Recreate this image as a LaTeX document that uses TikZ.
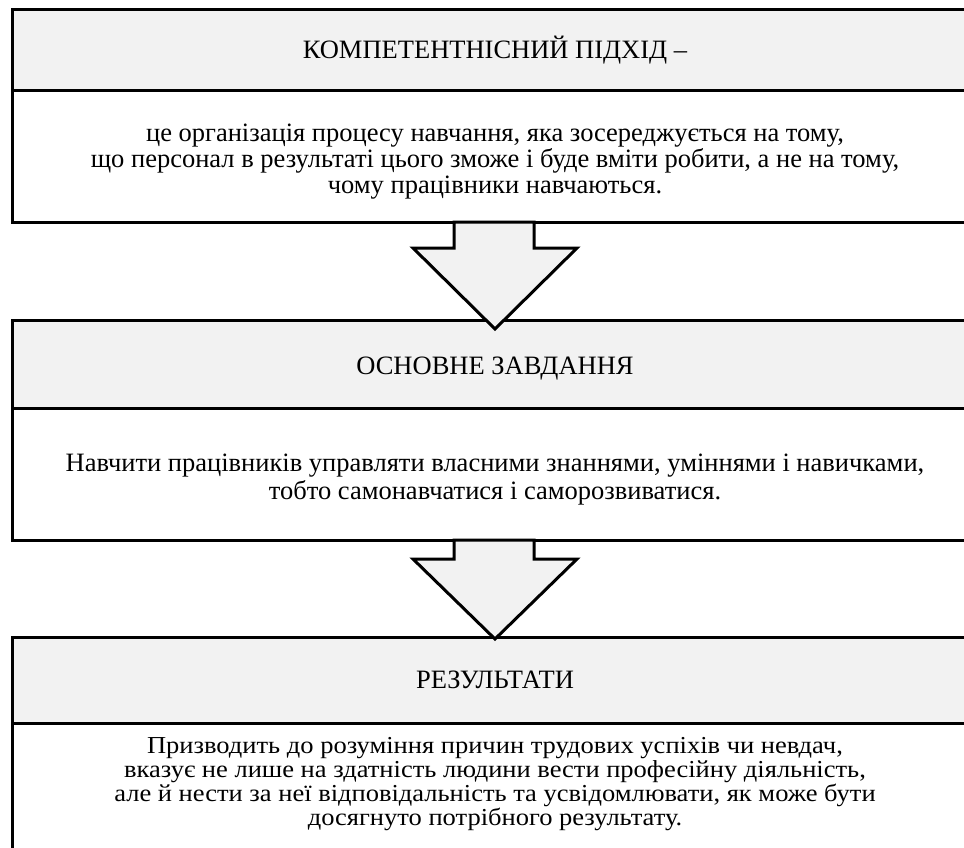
\documentclass[tikz,border=0pt]{standalone}
\usepackage{fontspec}
\setmainfont{Liberation Serif}
\usetikzlibrary{positioning}
\begin{document}
\begin{tikzpicture}[x=1pt,y=-1pt,
  every node/.style={align=center,font=\fontsize{26.5}{26}\selectfont},
  headbox/.style={draw,fill=black!5,line width=3pt},
  bodybox/.style={draw,fill=white,line width=3pt},
  downarrow/.style={draw,fill=black!5,line width=3pt,line join=miter}]
\clip (0,0) rectangle (964,847);
\fill[white] (0,0) rectangle (964,847);
% box 1
\draw[headbox] (12,9) rectangle (990,90);
\draw[bodybox] (12,90) rectangle (990,222);
\node (t1) at (495,50) {КОМПЕТЕНТНІСНИЙ ПІДХІД –};
\node (b1) at (495,162) {це організація процесу навчання, яка зосереджується на тому,\\
що персонал в результаті цього зможе і буде вміти робити, а не на тому,\\
чому працівники навчаються.};
% box 2
\draw[headbox] (12,320) rectangle (990,408);
\draw[bodybox] (12,408) rectangle (990,540);
\node (t2) at (495,369) {ОСНОВНЕ ЗАВДАННЯ};
\node[font=\fontsize{26.5}{28}\selectfont] (b2) at (495,480) {Навчити працівників управляти власними знаннями, уміннями і навичками,\\
тобто самонавчатися і саморозвиватися.};
% box 3
\draw[headbox] (12,637) rectangle (990,723);
\draw[bodybox] (12,723) rectangle (990,900);
\node (t3) at (495,680) {РЕЗУЛЬТАТИ};
\node[yscale=0.92] (b3) at (495,784) {Призводить до розуміння причин трудових успіхів чи невдач,\\
вказує не лише на здатність людини вести професійну діяльність,\\
але й нести за неї відповідальність та усвідомлювати, як може бути\\
досягнуто потрібного результату.};
% arrows
\draw[downarrow] (454,222) -- (454,248) -- (413,248) -- (495,329) -- (577,248) -- (534,248) -- (534,222) -- cycle;
\draw[downarrow] (454,540) -- (454,559) -- (413,559) -- (495,639) -- (577,559) -- (534,559) -- (534,540) -- cycle;
\end{tikzpicture}
\end{document}
